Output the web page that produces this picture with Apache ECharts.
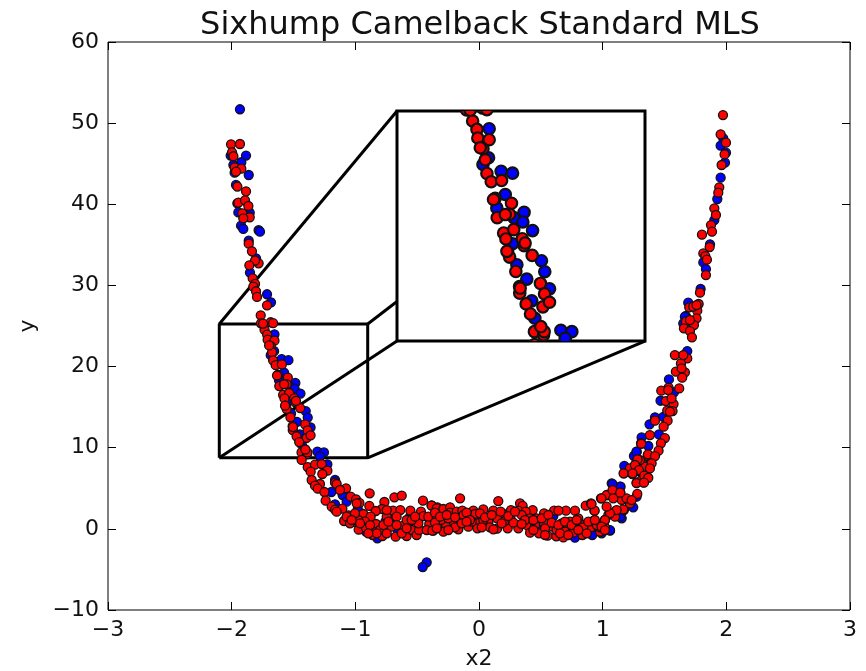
<!DOCTYPE html>
<html>
<head>
<meta charset="utf-8">
<title>Sixhump Camelback Standard MLS</title>
<script src="https://cdn.jsdelivr.net/npm/echarts@6/dist/echarts.min.js"></script>
<style>
  html, body { margin: 0; padding: 0; background: #fff; }
  #chart { width: 866px; height: 671px; }
</style>
</head>
<body>
<div id="chart"></div>
<script>
// values, [x2, y]
const redLeftArm = [
  [-2.005,47.39],[-1.933,47.43],[-1.997,46.41],[-1.986,45.92],[-1.976,44.56],[-1.922,44.39],[-1.965,44.02],
  [-1.954,42.18],[-1.884,41.6],[-1.946,40.2],[-1.892,40.49],[-1.865,39.79],[-1.914,38.89],[-1.854,38.4],
  [-1.906,38.27],[-1.862,35.15],[-1.836,34.21],[-1.782,32.73],[-1.811,33.06],[-1.857,32.48],[-1.83,30.88],
  [-1.811,30.18],[-1.825,29.85],[-1.803,29.28],[-1.795,28.58],[-1.714,27.55],[-1.765,26.32],[-1.685,25.46],
  [-1.763,25.33]
];
const redZoomed = [
  [-1.734,24.53],[-1.713,23.93],[-1.709,23.31],[-1.654,23.19],[-1.684,22.54],[-1.673,21.75],[-1.665,20.77],
  [-1.644,20.17],[-1.594,20.26],[-1.625,18.99],[-1.546,18.63],[-1.615,17.6],[-1.555,17.84],[-1.584,16.5],
  [-1.535,16.74],[-1.494,16.09],[-1.573,16.07],[-1.485,15.59],[-1.565,15.18],[-1.555,14.77],[-1.446,14.89],
  [-1.525,13.74],[-1.406,12.88],[-1.507,12.66],[-1.506,12.18],[-1.386,12.13],[-1.475,11.41],[-1.394,11.2],
  [-1.362,11.53],[-1.454,10.69],[-1.435,9.42],[-1.391,9.18],[-1.746,25.3],[-1.665,25.35],
  [-1.697,22.61],[-1.576,17.82],[-1.568,15.18],[-1.504,12.54],[-1.388,9.42],[-1.404,9.78],[-1.633,18.9],[-1.48,15.78]
];
const redLeftBend = [
  [-1.434,8.49],[-1.385,7.62],[-1.326,7.91],[-1.272,7.99],[-1.361,7.05],[-1.226,7.17],[-1.267,6.76],[-1.353,6.02],
  [-1.164,5.69],[-1.151,5.53],[-1.286,5.53],[-1.326,5.32],[-1.304,4.95],[-1.075,4.99],[-1.124,4.79],[-0.884,4.38],
  [-1.25,4.54],[-0.684,3.88],[-0.625,4.09],[-1.038,3.97],[-0.994,3.64],[-1.24,3.47],[-0.453,3.47],[-0.967,3.19],
  [-0.887,2.82],[-0.765,3.31],[-1.191,2.73],[-1.164,2.37],[-1.105,2.49],[-1.054,1.67],[-0.935,1.83],[-0.784,2.45],
  [-0.695,2.24],[-0.636,2.32],[-0.555,2.24],[-0.469,2.12],[-0.383,2.9],[-0.337,2.65],[-0.835,2.2],[-0.876,1.5],
  [-1.016,0.85],[-1.091,0.97],[-0.922,0.93],[-0.833,0.6],[-0.746,1.5],[-0.973,-0.1],[-0.914,0.11],[-0.854,-0.39],
  [-0.86,-0.76],[-0.781,-0.88],[-0.706,0.27],[-0.674,-0.96],[-0.614,0.39],[-0.585,-0.88],[-0.544,-0.14],[-0.504,-0.76],
  [-0.485,-0.14],[-0.49,0.68],[-0.45,1.58],[-0.402,0.6],[-0.356,0.85],[-0.369,-0.22],[-0.666,1.5],[-0.8,-0.14],
  [-0.746,-0.55],[-0.827,-0.55],[-1.043,0.68],[-0.976,1.09],[-0.625,-0.55],
  [-1.07,1.5],[-1.003,1.91],[-0.962,0.68],[-0.881,0.47],[-0.895,-0.55],[-0.773,0.47],[-0.733,0.89],[-0.666,0.47],
  [-0.585,1.09],[-0.544,1.09],[-0.585,0.07],[-0.423,-0.14],[-0.41,1.5],[-0.342,1.5],[-0.517,1.5],[-0.746,2.32],
  [-0.989,3.15],[-1.151,2.12],[-1.03,1.09]
];
const redFloor = [
  [-0.153,3.76],[0.156,3.43],[-0.383,2.86],[-0.342,2.53],[-0.288,2.45],[-0.234,2.65],[-0.234,1.99],[-0.18,2.12],
  [-0.135,2.24],[-0.046,2.24],[0.035,2.4],[0.116,2.24],[0.197,1.83],[0.259,2.32],[0.332,3.14],[0.353,2.82],
  [0.318,2.24],[0.434,2.32],[0.526,1.91],[0.607,2.24],[0.703,2.24],[0.776,2.24],[0.642,2.24],[-0.032,1.83],
  [-0.126,1.71],[0.377,2.12],[0.413,1.3],[0.466,1.3],[0.52,0.89],[0.256,1.21],[0.146,1.3],[0.076,0.89],
  [-0.013,0.68],[-0.086,0.27],[-0.167,-0.06],[-0.215,0.89],[-0.267,0.35],[-0.31,1.09],[-0.356,0.76],[-0.377,-0.22],
  [-0.288,-0.35],[-0.194,0.19],[-0.013,0.06],[0.089,0.19],[0.146,0.02],[0.232,0.06],[0.318,0.06],[0.394,0.39],
  [0.413,-0.47],[0.485,-0.55],[0.555,-0.84],[0.625,-0.92],[0.682,-1.05],[0.593,0.27],[0.668,0.68],[0.714,0.06],
  [0.763,-0.47],[0.836,-0.76],[0.817,0.68],[0.906,0.19],[0.925,0.97],[0.979,-0.35],[1.005,0.35],[1.019,1.09],
  [0.202,0.89],[0.345,1.71],[0.278,0.76],[0.035,1.09],[-0.059,0.89],[-0.14,0.68],[-0.248,1.3],[0.736,0.89],
  [0.803,1.3],[0.979,0.19],[0.695,-0.35],[0.628,-0.14],[0.534,0.06],[0.453,0.47],
  [-0.356,2.0],[-0.315,1.5],[-0.261,1.71],[-0.194,1.42],[-0.1,2.0],[-0.073,1.09],[0.008,1.91],[0.049,1.42],
  [0.103,1.71],[0.175,2.12],[0.237,1.58],[0.291,2.12],[0.372,1.09],[0.44,1.09],[0.507,1.3],[0.561,1.71],
  [0.588,0.76],[0.642,0.47],[0.695,0.89],[0.749,0.47],[0.79,1.09],[0.844,0.19],[0.884,0.89],[0.952,0.47],
  [1.019,0.19],[1.046,1.71],[-0.342,0.06],[-0.248,-0.14],[-0.1,0.89],[0.022,0.19],[0.116,-0.06],[0.183,0.68],
  [0.345,0.6],[0.44,-0.14],[0.534,-0.76],[0.655,-0.55],[0.722,-0.76],[0.803,-0.14],[0.871,-0.55]
];
const redRightBend = [
  [0.863,2.86],[0.906,3.14],[0.933,2.24],[0.986,3.76],[1.038,4.17],[1.081,4.58],[1.143,4.46],[1.105,2.2],
  [1.172,2.32],[1.221,3.14],[1.154,3.56],[1.172,6.84],[1.24,6.76],[1.294,7.13],[1.275,5.69],[1.329,5.73],
  [1.28,4.3],[1.283,8.57],[1.329,7.87],[1.31,10.54],[1.364,8.98],[1.1,1.5],[1.032,4.17],[1.08,4.78],
  [1.22,3.14],[1.166,2.4],[1.113,2.32],[1.059,1.91],[0.935,2.24],[0.91,3.06],[1.018,1.09],
  [1.342,7.66],[1.22,7.45],[1.396,8.89],[1.301,8.48],[1.315,6.02],[1.193,3.76],[1.234,3.55],[1.086,3.76],
  [0.991,3.76],[1.032,2.73],[0.937,1.09],[0.991,0.27],[1.018,-0.15]
];
const redRightArm = [
  [1.776,27.71],[1.7,27.3],[1.765,26.89],[1.759,25.94],[1.673,25.53],[1.738,25.12],[1.657,24.71],[1.706,24.38],
  [1.722,23.6],[1.584,21.42],[1.684,21.01],[1.633,20.39],[1.592,19.37],[1.665,19.29],[1.643,18.63],[1.533,17.4],
  [1.474,17.03],[1.619,17.31],[1.511,15.75],[1.573,15.38],[1.522,14.56],[1.565,14.52],[1.423,13.33],[1.525,13.33],
  [1.493,12.59],[1.382,11.56],[1.503,11.19],[1.471,10.54],[1.312,10.49],[1.452,9.63],[1.366,9.18],[1.423,8.97],
  [1.282,8.56],[1.396,8.07],[1.261,7.87],[1.382,7.45],[1.293,7.25],[1.169,6.84],[1.242,6.84],[1.336,6.55],
  [1.369,6.3],[1.274,5.65],[1.334,5.69],[1.142,4.46],
  [1.53,17.1],[1.557,16.08],[1.544,14.44],[1.638,19.78],[1.652,21.42],[1.732,27.38],[1.706,25.73],[1.759,27.58],
  [1.973,51.0],[1.954,48.62],[1.997,47.59],[1.986,46.15],[1.962,44.84],[1.943,42.09],[1.935,41.43],[1.903,39.5],
  [1.916,38.68],[1.876,37.44],[1.884,36.62],[1.803,36.25],[1.865,34.73],[1.814,33.95],[1.83,33.62],[1.843,33.17],
  [1.835,31.28],[1.787,29.11]
];
const blueLeft = [
  [-1.933,51.71],[-1.884,46.0],[-1.922,45.18],[-1.862,43.61],[-2.008,46.0],[-1.986,44.85],[-1.976,43.9],[-1.965,42.38],
  [-1.954,40.12],[-1.946,39.0],[-1.854,38.97],[-1.924,37.37],[-1.906,36.96],[-1.782,36.8],[-1.771,36.63],[-1.862,35.52],
  [-1.803,33.34],[-1.852,31.58],[-1.714,28.91],[-1.682,27.92],
  [-1.654,23.98],[-1.657,21.9],[-1.684,21.41],[-1.596,20.93],[-1.541,20.79],[-1.576,19.26],[-1.617,18.3],[-1.485,17.98],
  [-1.533,17.58],[-1.491,17.29],[-1.444,16.67],[-1.541,15.73],[-1.401,14.51],[-1.385,13.72],[-1.52,14.22],[-1.472,13.19],
  [-1.362,12.49],[-1.448,11.63],[-1.433,10.38],[-1.307,9.52],[-1.254,9.42],[-1.286,8.94],
  [-1.226,7.95],[-1.194,4.54],[-1.102,4.17],[-1.07,3.35],[-1.164,6.02],[-0.98,2.45],[-1.164,3.02],[-0.757,0.89],
  [-0.693,1.5],[-0.914,-0.35],[-0.822,-1.17],[-0.658,-0.06],[-0.558,1.5],[-0.423,-4.13],[-0.455,-4.7]
];
const blueRight = [
  [0.601,1.58],[1.06,-0.23],[0.776,-1.09],[0.916,-0.76],[0.992,-0.55],[1.073,5.61],[1.14,5.2],[1.154,1.3],
  [1.275,9.51],[1.175,7.75],[1.253,8.98],[-0.126,1.58],[0.014,1.58],[0.466,0.27],
  [1.684,21.91],[1.692,27.87],[1.673,26.23],[1.652,25.32],[1.536,18.42],[1.576,16.82],[1.468,15.79],[1.423,13.74],
  [1.379,12.88],[1.315,11.27],[1.455,11.64],[1.369,10.21],[1.274,9.51],[1.49,13.8],[1.145,5.2],[1.08,5.52],
  [1.14,1.5],[1.059,-0.15],[0.978,-0.35],[1.247,2.65],[1.274,3.96],
  [1.975,48.13],[1.954,47.22],[1.997,46.36],[1.989,45.13],[1.954,43.28],[1.927,40.65],[1.903,38.06],[1.868,35.06],
  [1.814,32.84],[1.835,32.02],[1.792,29.56],[1.665,26.15]
];

const redPoints = [].concat(redLeftArm, redZoomed, redLeftBend, redFloor, redRightBend, redRightArm);
const bluePoints = [].concat(blueLeft, blueRight);

// zoomed region and where the inset sits, both in main axes units
const zoomX = [-2.1, -0.9];
const zoomY = [8.75, 25.25];
const insetX = [-0.663, 1.342];
const insetY = [23.15, 51.5];

const font = '"DejaVu Sans"';
const chart = echarts.init(document.getElementById('chart'));

const plainAxis = (extra) => Object.assign({
  type: 'value',
  splitLine: { show: false },
  axisLine: { show: false, onZero: false },
  axisTick: { show: true, inside: true, length: 8, lineStyle: { color: '#000', width: 1 } },
  axisLabel: {
    color: '#111', fontFamily: font, fontSize: 22, margin: 9,
    formatter: (v) => String(v).replace('-', '\u2212')
  }
}, extra);

const mainX = { min: -3, max: 3, interval: 1 };
const mainY = { min: -10, max: 60, interval: 10 };

const lineSeries = (data) => ({
  type: 'line', xAxisIndex: 0, yAxisIndex: 0, data: data, z: 1, silent: true,
  showSymbol: false, symbol: 'none', clip: false,
  lineStyle: { color: '#000', width: 3 }
});

const dots = (data, color) => ({
  type: 'scatter', xAxisIndex: 0, yAxisIndex: 0, data: data,
  symbolSize: 9, z: color === '#ff0000' ? 4 : 3,
  itemStyle: { color: color, opacity: 1, borderColor: '#111', borderWidth: 1.3 }
});

// custom so dots cut by the inset frame are really cut, not dropped
const insetDots = (data, color) => ({
  type: 'custom', xAxisIndex: 2, yAxisIndex: 2, data: data, clip: true, silent: true,
  z: color === '#ff0000' ? 4 : 3,
  encode: { x: 0, y: 1 },
  renderItem: (params, api) => {
    const p = api.coord([api.value(0), api.value(1)]);
    return {
      type: 'circle',
      shape: { cx: p[0], cy: p[1], r: 5.7 },
      style: { fill: color, stroke: '#111', lineWidth: 2.2 }
    };
  }
});

chart.setOption({
  animation: false,
  title: {
    text: 'Sixhump Camelback Standard MLS', left: 475, top: 5, textAlign: 'center',
    textStyle: { fontFamily: font, fontSize: 32, fontWeight: 'normal', color: '#111' }
  },
  grid: [
    { left: 108, top: 42, width: 742, height: 568, show: true, borderColor: '#000', borderWidth: 1, z: 0,
      backgroundColor: '#fff', outerBoundsMode: 'none' },
    { left: 397, top: 111, width: 248, height: 230, show: true, borderColor: '#000', borderWidth: 3, z: 2,
      backgroundColor: '#fff', outerBoundsMode: 'none' }
  ],
  xAxis: [
    plainAxis(Object.assign({ gridIndex: 0, position: 'bottom', name: 'x2', nameLocation: 'middle', nameGap: 38,
      nameTextStyle: { fontFamily: font, fontSize: 22, color: '#111' } }, mainX)),
    plainAxis(Object.assign({ gridIndex: 0, position: 'top', axisLabel: { show: false } }, mainX)),
    { type: 'value', gridIndex: 1, min: zoomX[0], max: zoomX[1], show: false, splitLine: { show: false } }
  ],
  yAxis: [
    plainAxis(Object.assign({ gridIndex: 0, position: 'left', name: 'y', nameLocation: 'middle', nameGap: 69,
      nameTextStyle: { fontFamily: font, fontSize: 22, color: '#111' } }, mainY)),
    plainAxis(Object.assign({ gridIndex: 0, position: 'right', axisLabel: { show: false } }, mainY)),
    { type: 'value', gridIndex: 1, min: zoomY[0], max: zoomY[1], show: false, splitLine: { show: false } }
  ],
  series: [
    lineSeries([[zoomX[0], zoomY[0]], [zoomX[1], zoomY[0]], [zoomX[1], zoomY[1]], [zoomX[0], zoomY[1]], [zoomX[0], zoomY[0]]]),
    lineSeries([[zoomX[0], zoomY[1]], [insetX[0], insetY[1]]]),
    lineSeries([[zoomX[1], zoomY[1]], [insetX[1], insetY[1]]]),
    lineSeries([[zoomX[0], zoomY[0]], [insetX[0], insetY[0]]]),
    lineSeries([[zoomX[1], zoomY[0]], [insetX[1], insetY[0]]]),
    dots(bluePoints, '#0000ff'),
    dots(redPoints, '#ff0000'),
    insetDots(bluePoints, '#0000ff'),
    insetDots(redPoints, '#ff0000')
  ]
});
</script>
</body>
</html>
